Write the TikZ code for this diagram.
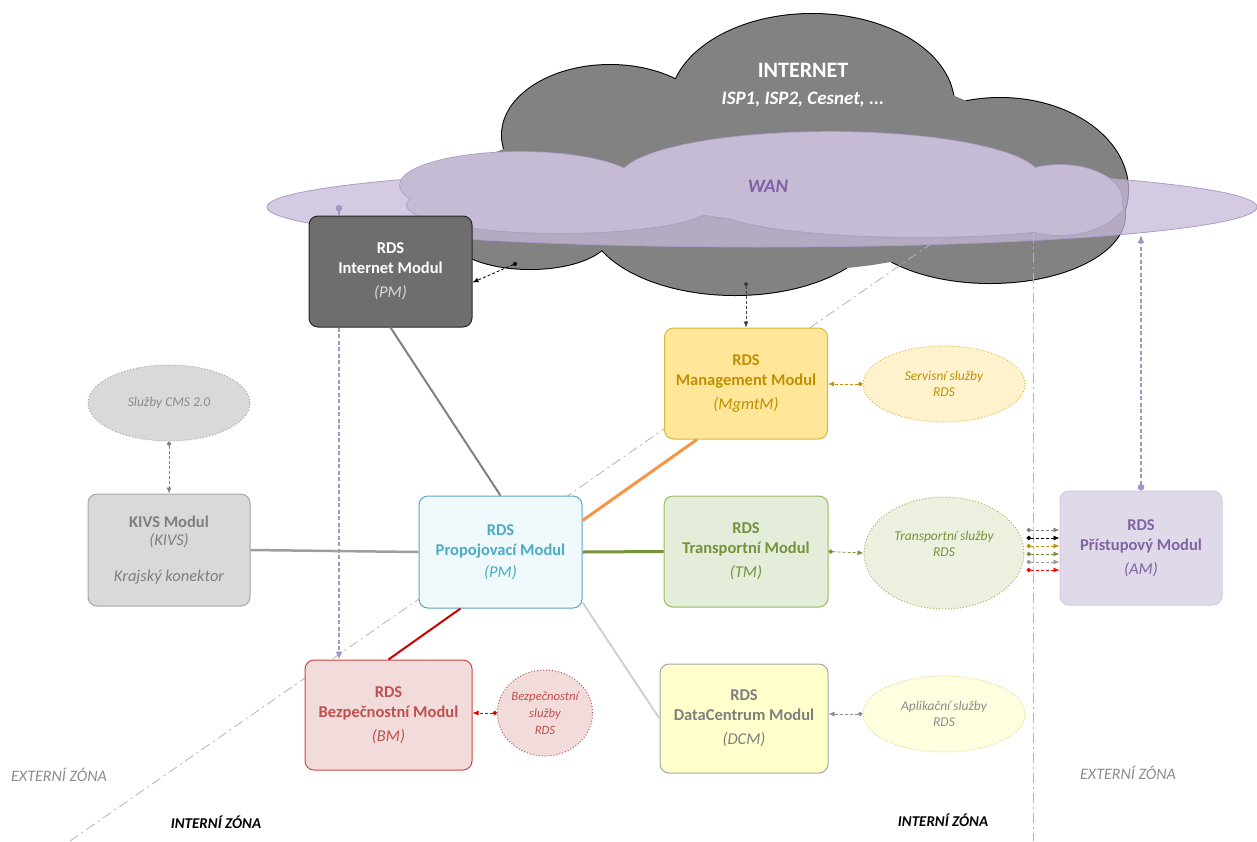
\documentclass[tikz,border=0pt]{standalone}
\usepackage{fontspec}
\setmainfont{Carlito}
\usetikzlibrary{shapes.geometric,arrows.meta}

\definecolor{cloudgray}{HTML}{828282}
\definecolor{wanfill}{HTML}{C6BBD4}
\definecolor{wanflat}{HTML}{C5B8D8}
\definecolor{wanline}{HTML}{AC9CC8}
\definecolor{wantext}{HTML}{7F60A8}
\definecolor{zoneline}{HTML}{B4B4B4}
\definecolor{zonetext}{HTML}{8C8C8C}
\definecolor{imfill}{HTML}{6E6E6E}
\definecolor{mgmtfill}{HTML}{FFE699}
\definecolor{mgmtline}{HTML}{DDB43C}
\definecolor{mgmttext}{HTML}{BF9000}
\definecolor{svfill}{HTML}{FFF2CC}
\definecolor{kivsfill}{HTML}{D9D9D9}
\definecolor{kivsline}{HTML}{A6A6A6}
\definecolor{kivstext}{HTML}{7F7F7F}
\definecolor{pmfill}{HTML}{EFF9FC}
\definecolor{pmline}{HTML}{5AA5C3}
\definecolor{pmtext}{HTML}{4BACC6}
\definecolor{tmfill}{HTML}{E3EDD9}
\definecolor{tmline}{HTML}{9BBB59}
\definecolor{tmtext}{HTML}{76923C}
\definecolor{trfill}{HTML}{EBF1DE}
\definecolor{dcmfill}{HTML}{FFFFCC}
\definecolor{apfill}{HTML}{FFFFE0}
\definecolor{apline}{HTML}{D8D880}
\definecolor{bmfill}{HTML}{F2DCDB}
\definecolor{bmline}{HTML}{D04545}
\definecolor{bmtext}{HTML}{C0504D}
\definecolor{amfill}{HTML}{E0D9EA}
\definecolor{amline}{HTML}{D3C8E2}
\definecolor{amtext}{HTML}{8064A2}
\definecolor{wanarrow}{HTML}{A493C6}
\definecolor{mgmtspoj}{HTML}{F79646}

\pgfdeclarelayer{bg}
\pgfdeclarelayer{mid}
\pgfsetlayers{bg,mid,main}

\tikzset{
	modul/.style={draw, rounded corners=9pt, minimum width=163pt, minimum height=111pt, inner sep=0pt, line width=1pt, align=center, font=\fontsize{16.5}{20}\selectfont\bfseries},
	sluzba/.style={ellipse, draw, dotted, line width=1pt, inner sep=0pt, align=center, font=\fontsize{13.5}{16}\selectfont\itshape},
	sipka/.style={dash pattern=on 3pt off 2pt, line width=0.8pt, {Circle[length=4.5pt]}-{Latex[length=6pt,width=5pt]}},
	wansipka/.style={wanarrow, dash pattern=on 4pt off 2.5pt, line width=1.4pt, {Circle[length=6.5pt]}-{Latex[length=8pt,width=7pt]}},
	zona/.style={zoneline, line width=0.8pt, dash pattern=on 10pt off 4pt on 2pt off 4pt},
	zonatext/.style={font=\fontsize{16}{18}\selectfont\itshape}
}

\begin{document}
\begin{tikzpicture}[x=1pt,y=-1pt]
	\useasboundingbox (0,0) rectangle (1257,841);

	\begin{pgfonlayer}{bg}
		% cloud INTERNET
		\foreach \cx/\cy/\rx/\ry in {812/105/142/91, 610/135/108/70, 530/235/80/34, 735/215/148/80, 1000/190/128/92, 990/215/135/68}
			\draw[fill=cloudgray, line width=2pt] (\cx,\cy) ellipse [x radius=\rx, y radius=\ry];
		\foreach \cx/\cy/\rx/\ry in {812/105/142/91, 610/135/108/70, 530/235/80/34, 735/215/148/80, 1000/190/128/92, 990/215/135/68, 800/170/230/100, 530/185/60/40}
			\fill[cloudgray] (\cx,\cy) ellipse [x radius=\rx, y radius=\ry];
		% zones
		\coordinate (zonetop) at (1033,173);
		\draw[zona] (70,841) -- (zonetop);
		\draw[zona] (zonetop) -- (1033,841);
		% WAN
		\draw[fill=wanflat, fill opacity=0.75, draw=wanline, line width=0.8pt] (762,207) ellipse [x radius=495, y radius=40];
		\foreach \cx/\cy/\rx/\ry in {520/185/120/33, 830/178/210/46, 1060/200/62/35, 560/205/153/28, 920/208/203/29}
			\draw[fill=wanfill, draw=wanline, line width=1.6pt] (\cx,\cy) ellipse [x radius=\rx, y radius=\ry];
		\foreach \cx/\cy/\rx/\ry in {520/185/120/33, 830/178/210/46, 1060/200/62/35, 560/205/153/28, 920/208/203/29}
			\fill[wanfill] (\cx,\cy) ellipse [x radius=\rx, y radius=\ry];
	\end{pgfonlayer}

	\node[text=white, font=\fontsize{22}{24}\selectfont\bfseries] (inet) at (803,70) {INTERNET};
	\node[text=white, font=\fontsize{19}{20}\selectfont\bfseries\itshape] (isp) at (803,100) {ISP1, ISP2, Cesnet, ...};
	\node[text=wantext, font=\fontsize{19}{20}\selectfont\bfseries\itshape] (wan) at (768,186) {WAN};

	% moduly
	\node[modul, fill=imfill, draw=black!85, text=white] (im) at (390.5,271.5) {RDS\\Internet Modul\\[4pt]{\mdseries\itshape\color{black!15}(PM)}};
	\node[modul, fill=mgmtfill, draw=mgmtline, text=mgmttext] (mgmt) at (746,383.5) {RDS\\Management Modul\\[4pt]{\mdseries\itshape (MgmtM)}};
	\node[modul, fill=kivsfill, draw=kivsline, text=kivstext, minimum width=162pt, minimum height=112pt] (kivs) at (169,550) {KIVS Modul\\[-2pt]{\mdseries\itshape (KIVS)}\\[16pt]{\mdseries\itshape Krajský konektor}};
	\node[modul, fill=pmfill, draw=pmline, text=pmtext, minimum height=112pt] (pm) at (500.5,552) {RDS\\Propojovací Modul\\[2pt]{\mdseries\itshape (PM)}};
	\node[modul, fill=tmfill, draw=tmline, text=tmtext, minimum width=164pt] (tm) at (746,551.5) {RDS\\Transportní Modul\\[4pt]{\mdseries\itshape (TM)}};
	\node[modul, fill=dcmfill, draw=kivsline, text=kivstext, minimum width=168pt, minimum height=109pt] (dcm) at (744,718.5) {RDS\\DataCentrum Modul\\[4pt]{\mdseries\itshape (DCM)}};
	\node[modul, fill=bmfill, draw=bmline, text=bmtext, minimum width=167pt, minimum height=110pt] (bm) at (388.5,715) {RDS\\Bezpečnostní Modul\\[4pt]{\mdseries\itshape (BM)}};
	\node[modul, fill=amfill, draw=amline, text=amtext, minimum width=162pt, minimum height=114pt] (am) at (1141,548) {RDS\\Přístupový Modul\\[4pt]{\mdseries\itshape (AM)}};

	% sluzby
	\node[sluzba, fill=kivsfill, draw=kivsline, text=zonetext, minimum width=162pt, minimum height=76pt] (cms) at (169,403) {Služby CMS 2.0};
	\node[sluzba, fill=svfill, draw=mgmtline, text=mgmttext, minimum width=162pt, minimum height=76pt] (sv) at (944,384) {Servisní služby\\RDS};
	\node[sluzba, fill=trfill, draw=tmline, text=tmtext, minimum width=160pt, minimum height=112pt] (tr) at (944,553) {Transportní služby\\RDS\\[3pt]};
	\node[sluzba, fill=apfill, draw=apline, text=zonetext, minimum width=162pt, minimum height=76pt] (ap) at (944,714) {Aplikační služby\\RDS};
	\node[sluzba, fill=bmfill, draw=bmtext, text=bmtext, minimum width=88pt, minimum height=86pt, font=\fontsize{12.7}{17}\selectfont\itshape] (bs) at (545,713) {Bezpečnostní\\služby\\RDS};

	% zony
	\node[zonatext, text=zonetext] (ext1) at (59,775) {EXTERNÍ ZÓNA};
	\node[zonatext, text=zonetext] (ext2) at (1128,773) {EXTERNÍ ZÓNA};
	\node[zonatext, text=black, font=\fontsize{15}{18}\selectfont\bfseries\itshape] (int1) at (216,822) {INTERNÍ ZÓNA};
	\node[zonatext, text=black, font=\fontsize{15}{18}\selectfont\bfseries\itshape] (int2) at (943,820) {INTERNÍ ZÓNA};

	% spoje
	\draw[line width=2pt, black!50] (im.south) -- (pm.north);
	\draw[line width=2.5pt, black!38] (kivs.east) -- (pm.west);
	\draw[line width=3pt, mgmtspoj] ([yshift=-25pt]pm.north east) -- ([xshift=33pt]mgmt.south west);
	\draw[line width=3pt, tmtext] (pm.east) -- (tm.west);
	\draw[line width=2pt, black!18] ([yshift=6pt]pm.south east) -- (dcm.west);
	\draw[line width=2pt, red!80!black] ([xshift=-40pt]pm.south) -- (bm.north);

	% sipky
	\coordinate (inetdot) at (517,263);
	\draw[sipka, black] (inetdot) -- ([yshift=-11pt]im.east);
	\coordinate (clouddot) at (746,282);
	\draw[sipka, black!75] (clouddot) -- (mgmt.north);
	\begin{pgfonlayer}{mid}
		\coordinate (wandot) at (339,205);
		\draw[wansipka] (wandot) -- (wandot |- bm.north);
	\end{pgfonlayer}
	\coordinate (wanend) at (1141,235);
	\draw[wansipka] (am.north) -- (wanend);
	\draw[sipka, black!50] (cms.south) -- (kivs.north);
	\draw[sipka, mgmttext] (sv.west) -- (sv.west -| mgmt.east);
	\draw[sipka, tmtext] (tm.east) -- (tr.west);
	\foreach \dy/\c in {23/black!50, 15/black, 7/mgmttext, -1/tmtext, -9/black!40, -17/red}{
		\coordinate (trdot) at ([xshift=2pt,yshift=\dy pt]tr.east);
		\draw[sipka, \c] (trdot) -- (trdot -| am.west);
	}
	\draw[sipka, black!45] (ap.west) -- (ap.west -| dcm.east);
	\draw[sipka, red!85!black] (bs.west) -- (bs.west -| bm.east);
\end{tikzpicture}
\end{document}
